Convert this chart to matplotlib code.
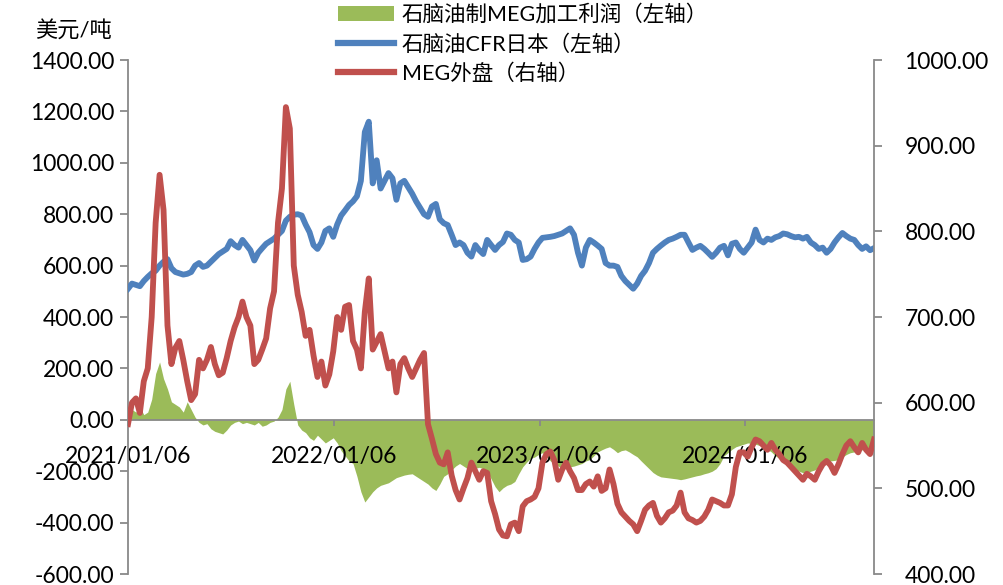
import pandas as pd
import matplotlib
matplotlib.use('Agg')
import matplotlib.pyplot as plt
from matplotlib.patches import Patch
from matplotlib.lines import Line2D
from matplotlib.ticker import FormatStrFormatter
import matplotlib.dates as mdates

plt.rcParams['font.family'] = ['Lato', 'Noto Sans CJK SC', 'DejaVu Sans']

# weekly observations starting 2021/01/06
dates = pd.date_range('2021-01-06', periods=190, freq='7D')

# 石脑油CFR日本 (left axis, USD/t)
naphtha_cfr = [
    510, 530, 525, 520, 540, 556, 570, 580, 600, 615,
    625, 590, 575, 570, 565, 568, 575, 600, 610, 595,
    600, 615, 630, 645, 655, 665, 695, 680, 670, 700,
    680, 660, 620, 650, 668, 685, 695, 705, 720, 735,
    775, 790, 798, 800, 795, 760, 730, 680, 665, 690,
    735, 745, 712, 760, 795, 815, 836, 850, 870, 930,
    1120, 1160, 920, 1010, 900, 930, 960, 940, 856, 920,
    930, 905, 880, 850, 825, 800, 790, 830, 840, 780,
    765, 758, 720, 680, 690, 680, 650, 635, 680, 660,
    645, 700, 680, 661, 680, 692, 725, 720, 700, 690,
    622, 625, 635, 665, 690, 708, 710, 712, 715, 720,
    725, 735, 745, 720, 650, 600, 670, 700, 690, 678,
    665, 610, 600, 600, 595, 560, 540, 525, 510, 530,
    560, 580, 610, 650, 665, 678, 690, 700, 705, 712,
    720, 720, 690, 661, 670, 677, 665, 650, 634, 650,
    670, 677, 640, 685, 690, 665, 650, 670, 690, 740,
    700, 690, 705, 700, 710, 715, 725, 722, 715, 710,
    712, 705, 712, 690, 680, 665, 670, 650, 665, 690,
    710, 727, 715, 705, 700, 680, 665, 675, 660, 668,
]

# MEG外盘 (right axis)
meg_price = [
    575, 600, 605, 588, 625, 640, 700, 810, 866, 825,
    690, 645, 664, 672, 650, 625, 603, 610, 650, 640,
    650, 665, 645, 632, 635, 652, 672, 688, 700, 718,
    700, 690, 645, 650, 662, 675, 710, 730, 810, 850,
    945, 920, 760, 726, 706, 678, 685, 655, 630, 648,
    620, 633, 660, 700, 685, 712, 714, 672, 662, 640,
    706, 745, 662, 671, 680, 660, 640, 648, 612, 645,
    652, 640, 630, 640, 650, 658, 575, 558, 540, 530,
    528, 542, 515, 498, 487, 500, 512, 530, 520, 510,
    520, 518, 485, 470, 452, 445, 444, 458, 460, 450,
    479, 485, 487, 490, 500, 530, 540, 543, 533, 510,
    522, 530, 520, 512, 498, 498, 505, 508, 502, 514,
    497, 500, 522, 505, 482, 472, 467, 462, 458, 450,
    462, 475, 480, 483, 468, 460, 465, 472, 474, 480,
    495, 472, 465, 463, 460, 462, 467, 475, 487, 485,
    483, 480, 480, 493, 525, 542, 542, 537, 548, 557,
    555, 550, 545, 553, 545, 540, 533, 530, 525, 520,
    515, 510, 517, 514, 510, 520, 528, 532, 527, 518,
    528, 540, 550, 555, 548, 542, 553, 545, 540, 557,
]

# 石脑油制MEG加工利润 (left axis)
meg_margin = [
    10, 40, 30, 50, 20, 30, 80, 180, 225, 160,
    120, 70, 60, 50, 30, 70, 40, 10, -10, -20,
    -15, -35, -45, -50, -55, -40, -20, -10, -5, -15,
    -10, -15, -20, -10, -25, -20, -10, -5, 10, 40,
    120, 150, 60, -20, -40, -50, -70, -80, -60, -75,
    -90, -80, -70, -90, -120, -140, -160, -170, -220, -280,
    -320, -300, -280, -265, -255, -250, -245, -235, -225, -220,
    -215, -212, -210, -220, -230, -240, -250, -265, -275, -250,
    -220, -210, -195, -180, -170, -180, -190, -190, -188, -185,
    -190, -200, -230, -260, -280, -265, -255, -250, -240, -210,
    -183, -165, -150, -145, -135, -128, -140, -160, -170, -180,
    -187, -185, -183, -180, -175, -170, -160, -155, -140, -125,
    -117, -110, -105, -115, -128, -120, -117, -125, -135, -144,
    -160, -175, -190, -205, -215, -222, -224, -226, -228, -230,
    -233, -230, -226, -222, -218, -215, -210, -206, -200, -190,
    -170, -140, -128, -115, -105, -100, -95, -90, -92, -95,
    -100, -105, -115, -125, -140, -150, -165, -180, -187, -195,
    -200, -206, -206, -200, -195, -185, -175, -165, -160, -158,
    -155, -145, -135, -128, -125, -120, -117, -112, -108, -105,
]

labels = ['石脑油制MEG加工利润（左轴）', '石脑油CFR日本（左轴）', 'MEG外盘（右轴）']
x_ticks = ['2021-01-06', '2022-01-06', '2023-01-06', '2024-01-06']

green = '#9BBB59'
blue = '#4F81BD'
red = '#C0504D'
grey = '#898989'

fig = plt.figure(figsize=(10.04, 5.85), dpi=100)
ax = fig.add_axes([0.1275, 0.0188, 0.743, 0.8786])
ax2 = ax.twinx()

ax.fill_between(dates, meg_margin, 0, color=green, lw=0, zorder=1)
ax.plot(dates, naphtha_cfr, color=blue, lw=4.2, zorder=3)
ax2.plot(dates, meg_price, color=red, lw=4.2, zorder=3)

# left axis
ax.set_ylim(-600, 1400)
ax.set_yticks(range(-600, 1401, 200))
ax.yaxis.set_major_formatter(FormatStrFormatter('%.2f'))
ax.set_xlim(dates[0], dates[-1])
ax.spines['bottom'].set_position(('data', 0))
ax.spines['top'].set_visible(False)
ax.spines['right'].set_visible(False)
for s in ['left', 'bottom']:
    ax.spines[s].set_color(grey)
    ax.spines[s].set_linewidth(1.3)
ax.set_xticks(pd.to_datetime(x_ticks))
ax.xaxis.set_major_formatter(mdates.DateFormatter('%Y/%m/%d'))
ax.tick_params(axis='y', direction='out', length=6, width=1.3, color=grey,
               labelsize=16.5, pad=4)
ax.tick_params(axis='x', direction='out', length=4, width=1.3, color=grey,
               labelsize=16.5, pad=15)

# right axis
ax2.set_ylim(400, 1000)
ax2.set_yticks(range(400, 1001, 100))
ax2.yaxis.set_major_formatter(FormatStrFormatter('%.2f'))
for s in ['left', 'top', 'bottom']:
    ax2.spines[s].set_visible(False)
ax2.spines['right'].set_color(grey)
ax2.spines['right'].set_linewidth(1.3)
ax2.tick_params(axis='y', direction='out', length=6, width=1.3, color=grey,
                labelsize=16.5, pad=16)

fig.text(0.035, 1 - 31 / 585, '美元/吨', fontsize=16, va='center', ha='left')

handles = [Patch(facecolor=green, edgecolor='none'),
           Line2D([], [], color=blue, lw=4.5),
           Line2D([], [], color=red, lw=4.5)]
fig.legend(handles, labels, loc='upper left', bbox_to_anchor=(0.336, 0.995),
           frameon=False, fontsize=15.5, handlelength=2.6, handletextpad=0.35,
           labelspacing=0.42, borderaxespad=0, borderpad=0.05)

fig.savefig('out.png', dpi=100)
